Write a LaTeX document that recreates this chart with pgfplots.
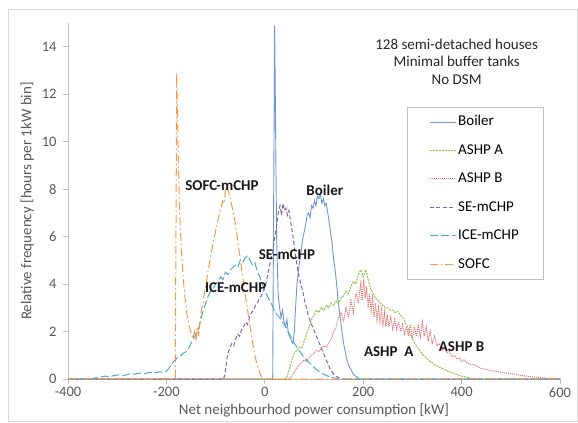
\documentclass[border=0pt]{standalone}
\usepackage{pgfplots}
\pgfplotsset{compat=1.18}
\usepackage{fontspec}
\setmainfont{Carlito}
\definecolor{cBoiler}{RGB}{110,150,210}
\definecolor{cAA}{RGB}{145,195,75}
\definecolor{cAB}{RGB}{225,110,110}
\definecolor{cSE}{RGB}{128,100,170}
\definecolor{cICE}{RGB}{75,172,198}
\definecolor{cSOFC}{RGB}{247,150,70}
\definecolor{axisgray}{RGB}{191,191,191}
\definecolor{tickgray}{RGB}{89,89,89}
\begin{document}
\begin{tikzpicture}
\useasboundingbox (-68bp,-44bp) rectangle (510bp,379bp);
\draw[gray!30, line width=0.8bp] (-60bp,-42bp) rectangle (509bp,370bp);
\begin{axis}[
  at={(0,0)}, anchor=south west,
  scale only axis, width=492bp, height=356bp,
  xmin=-400, xmax=600, ymin=0, ymax=15,
  xtick={-400,-200,...,600}, ytick={0,2,...,14},
  axis x line=bottom, axis y line=left,
  axis line style={-, draw=axisgray, line width=0.8bp},
  tick align=outside, major tick length=5bp,
  tick style={draw=axisgray, line width=0.8bp},
  /pgf/number format/assume math mode=true,
  tick label style={font=\fontsize{14.5bp}{17bp}\selectfont, text=tickgray},
  yticklabel style={xshift=-3bp},
  xlabel={Net neighbourhod power consumption [kW]},
  ylabel={Relative frequency [hours per 1kW bin]},
  every axis x label/.style={at={(axis description cs:0.5,-0.087)}, anchor=center, font=\fontsize{15bp}{18bp}\selectfont, text=tickgray},
  every axis y label/.style={at={(axis description cs:-0.083,0.5)}, anchor=center, rotate=90, font=\fontsize{15bp}{18bp}\selectfont, text=tickgray},
  legend style={draw=axisgray, fill=white, at={(0.689,0.764)}, anchor=north west,
    inner xsep=22bp, inner ysep=6bp, row sep=11bp,
    font=\fontsize{15bp}{18bp}\selectfont,
    nodes={inner sep=2bp, text height=10.5bp, text depth=3bp}},
  legend cell align=left,
  legend image code/.code={\draw[#1] (0bp,0bp) -- (26bp,0bp);},
  clip=false,
]
\addplot[cBoiler, line width=0.9bp] coordinates {
(-400,0) (10,0) (16,0) (20,14.9) (24,6) (27,3.6) (30,3.0) (33,2.6) (36,2.9) (39,2.4) (42,2.2) (45,2.5) (48,1.9) (51,1.8) (54,1.6) (57,1.5) (60,2.0) (62,2.8) (65,3.9) (68,4.5) (71,5.0) (74,5.4) (77,5.9) (80,6.2) (83,6.5) (86,6.9) (89,7.0) (92,6.8) (95,7.3) (98,7.2) (101,7.5) (104,7.3) (107,7.7) (110,7.6) (113,7.8) (116,7.4) (119,7.6) (122,7.3) (125,7.4) (128,7.0) (131,6.6) (134,6.1) (137,5.7) (140,5.0) (143,4.6) (146,4.0) (149,3.3) (152,2.8) (155,2.3) (158,1.8) (161,1.4) (164,1.1) (167,0.8) (170,0.6) (175,0.4) (180,0.2) (186,0.1) (192,0) (600,0)
};
\addlegendentry{Boiler}
\addplot[cAA, line width=1bp, dash pattern=on 2bp off 1bp] coordinates {
(-400,0) (40,0) (45,0.1) (50,0.4) (55,0.8) (60,1.1) (65,1.2) (70,1.35) (75,1.3) (80,1.6) (85,1.9) (90,2.2) (95,2.5) (100,2.7) (105,2.9) (110,2.8) (115,3.0) (120,2.9) (125,3.1) (130,3.0) (135,3.2) (140,3.1) (145,3.3) (150,3.2) (155,3.4) (160,3.5) (165,3.7) (170,3.6) (175,3.9) (180,4.1) (185,4.0) (190,4.4) (195,4.6) (200,4.3) (205,4.6) (210,4.2) (215,3.8) (220,3.6) (225,3.4) (230,3.3) (235,3.2) (240,3.1) (245,3.0) (250,3.0) (255,2.9) (260,2.9) (265,2.8) (270,2.85) (275,2.7) (280,2.6) (285,2.4) (290,2.2) (295,1.9) (300,1.7) (305,1.5) (310,1.35) (315,1.2) (320,1.05) (325,0.95) (330,0.85) (335,0.75) (340,0.7) (345,0.6) (350,0.55) (355,0.5) (360,0.45) (365,0.4) (370,0.35) (375,0.3) (380,0.28) (385,0.22) (390,0.2) (395,0.15) (400,0.12) (405,0.1) (410,0.08) (415,0.05) (420,0.02) (425,0) (600,0)
};
\addlegendentry{ASHP A}
\addplot[cAB, line width=1bp, dash pattern=on 1bp off 1bp] coordinates {
(-400,0) (50,0) (55,0.15) (60,0.3) (65,0.45) (70,0.6) (75,0.7) (80,0.8) (85,0.75) (90,0.9) (95,1.0) (100,1.1) (105,1.2) (110,1.15) (115,1.3) (120,1.4) (125,1.35) (130,1.5) (135,1.7) (140,2.0) (145,2.2) (150,2.6) (155,2.8) (160,2.4) (165,3.0) (170,2.6) (175,3.3) (180,2.8) (185,3.6) (190,3.2) (195,4.0) (198,3.3) (201,4.2) (204,3.4) (207,3.9) (210,3.0) (213,3.6) (216,2.9) (219,3.4) (222,2.6) (225,3.2) (228,2.5) (231,3.0) (234,2.4) (237,2.9) (240,2.3) (243,2.8) (246,2.2) (249,2.7) (252,2.2) (256,2.6) (260,2.1) (264,2.5) (268,2.1) (272,2.4) (276,2.0) (280,2.3) (284,1.9) (288,2.2) (292,1.8) (296,2.3) (300,1.7) (304,2.2) (308,1.8) (312,2.3) (316,1.7) (320,2.4) (324,1.8) (328,2.2) (332,1.6) (336,2.0) (340,1.5) (345,1.8) (350,1.4) (355,1.5) (360,1.2) (365,1.3) (370,1.1) (375,1.15) (380,0.95) (385,1.0) (390,0.85) (395,0.9) (400,0.75) (405,0.8) (410,0.7) (415,0.65) (420,0.6) (425,0.62) (430,0.55) (435,0.5) (440,0.45) (450,0.4) (460,0.35) (470,0.32) (480,0.28) (490,0.25) (500,0.22) (510,0.2) (520,0.15) (530,0.12) (540,0.1) (550,0.08) (560,0.06) (575,0.03) (590,0.01) (600,0)
};
\addlegendentry{ASHP B}
\addplot[cSE, line width=1bp, dash pattern=on 4bp off 2.5bp] coordinates {
(-400,0) (-84,0) (-81,0.2) (-78,0.7) (-75,1.1) (-71,1.3) (-67,1.5) (-63,1.4) (-59,1.7) (-55,1.9) (-51,1.8) (-47,2.1) (-43,2.2) (-39,2.4) (-35,2.3) (-31,2.6) (-27,2.8) (-23,2.9) (-19,3.1) (-15,3.2) (-11,3.4) (-7,3.5) (-3,3.7) (1,3.9) (4,4.2) (7,4.5) (10,4.8) (13,5.1) (16,5.3) (19,5.8) (22,6.2) (25,6.6) (28,7.1) (31,7.3) (34,6.9) (37,7.4) (40,7.1) (43,7.2) (46,6.9) (49,7.1) (52,6.7) (55,6.3) (58,5.9) (61,5.4) (64,5.0) (67,4.6) (70,4.3) (73,4.0) (76,3.8) (79,3.5) (82,3.2) (85,3.0) (88,2.7) (91,2.5) (95,2.3) (99,2.1) (103,1.9) (107,1.7) (111,1.5) (115,1.3) (119,1.1) (123,0.9) (127,0.7) (131,0.5) (135,0.35) (140,0.2) (146,0.1) (152,0.03) (158,0) (600,0)
};
\addlegendentry{SE-mCHP}
\addplot[cICE, line width=1bp, dash pattern=on 8bp off 3bp] coordinates {
(-400,0) (-350,0) (-345,0.05) (-335,0.08) (-325,0.12) (-315,0.1) (-305,0.15) (-295,0.18) (-285,0.15) (-275,0.22) (-265,0.2) (-255,0.25) (-245,0.22) (-235,0.28) (-225,0.25) (-215,0.3) (-205,0.28) (-200,0.33) (-195,0.45) (-190,0.6) (-185,0.75) (-180,0.85) (-175,0.95) (-170,1.0) (-165,1.1) (-160,1.15) (-155,1.3) (-150,1.5) (-145,1.7) (-140,1.9) (-135,2.1) (-130,2.5) (-125,2.9) (-120,3.2) (-115,3.5) (-110,3.7) (-105,3.8) (-100,4.0) (-95,4.1) (-90,4.3) (-85,4.2) (-80,4.5) (-75,4.4) (-70,4.6) (-65,4.7) (-60,4.8) (-55,4.7) (-50,5.0) (-45,4.9) (-40,5.1) (-35,5.2) (-30,5.0) (-25,4.8) (-20,4.9) (-15,4.5) (-10,4.3) (-5,4.0) (0,3.7) (5,3.5) (10,3.3) (15,3.1) (20,2.9) (25,2.7) (30,2.6) (35,2.4) (40,2.3) (45,2.1) (50,1.9) (55,1.7) (60,1.5) (65,1.35) (70,1.2) (75,1.05) (80,0.9) (85,0.8) (90,0.7) (95,0.6) (100,0.5) (105,0.4) (110,0.32) (115,0.25) (120,0.2) (125,0.15) (130,0.1) (135,0.07) (140,0.05) (148,0) (600,0)
};
\addlegendentry{ICE-mCHP}
\addplot[cSOFC, line width=1bp, dash pattern=on 8bp off 3bp on 1.5bp off 3bp] coordinates {
(-400,0) (-182,0) (-179,12.9) (-176,9.5) (-173,7.0) (-170,5.6) (-167,4.6) (-164,3.8) (-161,3.2) (-158,2.7) (-155,2.4) (-152,2.1) (-149,1.9) (-146,1.7) (-143,2.0) (-140,1.6) (-137,2.2) (-134,1.8) (-131,2.6) (-128,3.0) (-125,3.2) (-122,3.8) (-119,4.0) (-116,4.5) (-113,4.8) (-110,5.2) (-107,5.5) (-104,5.9) (-101,6.1) (-98,6.5) (-95,6.7) (-92,7.0) (-89,7.2) (-86,7.5) (-83,7.4) (-80,7.9) (-77,8.2) (-74,7.9) (-71,7.7) (-68,7.4) (-65,7.1) (-62,6.8) (-59,6.4) (-56,6.0) (-53,5.5) (-50,5.1) (-47,4.6) (-44,4.2) (-41,3.7) (-38,3.3) (-35,2.9) (-32,2.5) (-29,2.1) (-26,1.7) (-23,1.3) (-20,1.0) (-17,0.7) (-14,0.5) (-11,0.3) (-8,0.15) (-5,0.05) (-3,0) (600,0)
};
\addlegendentry{SOFC}
\node[align=center, font=\fontsize{15bp}{17.5bp}\selectfont, text=black!85] at (axis cs:390,13.38) {128 semi-detached houses\\Minimal buffer tanks\\No DSM};
\begin{scope}[every node/.style={font=\fontsize{15bp}{18bp}\selectfont\bfseries, text=black!90}]
\node at (axis cs:-87,8.14) {SOFC-mCHP};
\node at (axis cs:122,7.97) {Boiler};
\node at (axis cs:45,5.23) {SE-mCHP};
\node at (axis cs:-59,3.84) {ICE-mCHP};
\node at (axis cs:252,1.14) {ASHP~~A};
\node at (axis cs:400,1.35) {ASHP B};
\end{scope}
\end{axis}
\end{tikzpicture}
\end{document}
